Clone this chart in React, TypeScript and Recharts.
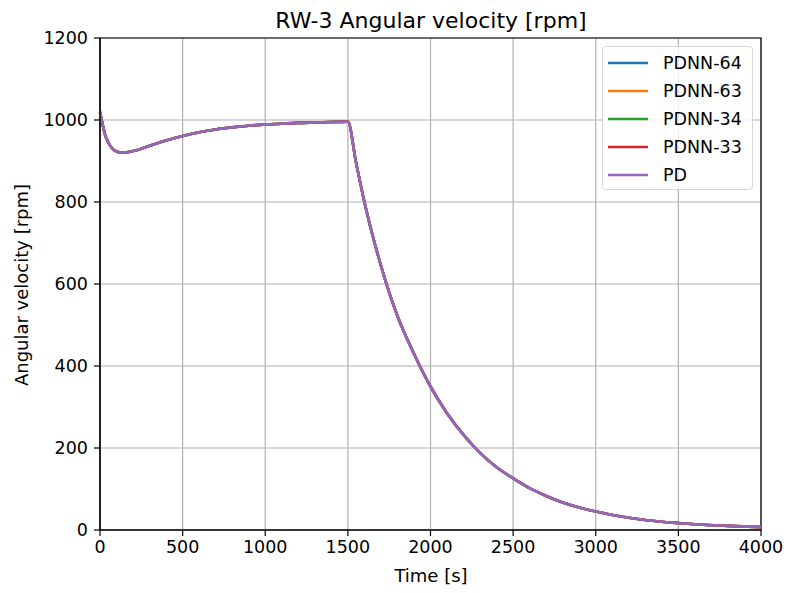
import { LineChart, Line, XAxis, YAxis, CartesianGrid, Legend, ReferenceArea } from "recharts";

// time stamps [s] and wheel speed [rpm]
const time = [
  0, 10, 20, 30, 50, 75, 100, 135, 175, 250, 300, 400, 500, 600, 700, 800, 900, 1000,
  1100, 1200, 1300, 1400, 1500, 1550, 1600, 1700, 1800, 1900, 2000, 2100, 2200, 2300,
  2400, 2500, 2600, 2700, 2800, 2900, 3000, 3200, 3400, 3500, 3600, 3800, 4000,
];
const pdnn64 = [
  1020, 1000, 982, 965, 945, 930, 923, 920, 922, 930, 937, 950, 961, 970, 977, 982, 986, 989,
  991, 993, 994, 995, 996, 895, 800, 645, 522, 430, 350, 285, 232, 188,
  153, 126, 102, 83, 67, 55, 45, 30, 20, 17, 14, 10, 7,
];
// the other controllers lie on top of PDNN-64 at this scale
const pdnn63 = pdnn64;
const pdnn34 = pdnn64;
const pdnn33 = pdnn64;
const pd = pdnn64;

const xTicks = [0, 500, 1000, 1500, 2000, 2500, 3000, 3500, 4000];
const yTicks = [0, 200, 400, 600, 800, 1000, 1200];

const series = [
  { key: "PDNN-64", values: pdnn64, color: "#1f77b4" },
  { key: "PDNN-63", values: pdnn63, color: "#ff7f0e" },
  { key: "PDNN-34", values: pdnn34, color: "#2ca02c" },
  { key: "PDNN-33", values: pdnn33, color: "#d62728" },
  { key: "PD", values: pd, color: "#9467bd" },
];

const data = time.map((t, i) => {
  const row: Record<string, number> = { t };
  series.forEach((s) => (row[s.key] = s.values[i]));
  return row;
});

const FONT = "'DejaVu Sans', sans-serif";

const renderLegend = () => (
  <div
    style={{
      position: "relative",
      width: 151,
      height: 144,
      boxSizing: "border-box",
      border: "1px solid #d6d6d6",
      borderRadius: 4,
      background: "rgba(255,255,255,0.8)",
      fontFamily: FONT,
      fontSize: 17.5,
      color: "#000",
    }}
  >
    {series.map((s, i) => (
      <div
        key={s.key}
        style={{ position: "absolute", left: 0, top: 16 + i * 28 - 12, height: 24, display: "flex", alignItems: "center" }}
      >
        <svg width={50} height={24} style={{ display: "block" }}>
          <line x1={5} x2={45} y1={12} y2={12} stroke={s.color} strokeWidth={2.6} />
        </svg>
        <span style={{ marginLeft: 10, lineHeight: "24px", whiteSpace: "nowrap" }}>{s.key}</span>
      </div>
    ))}
  </div>
);

export default function App() {
  return (
    <div style={{ position: "absolute", left: 0, top: 0, width: 786, height: 593, background: "#fff" }}>
      <LineChart
        width={786}
        height={593}
        data={data}
        margin={{ top: 38, right: 25, bottom: 33, left: 10 }}
      >
        <CartesianGrid stroke="#b0b0b0" strokeWidth={1.2} />
        <XAxis
          dataKey="t"
          type="number"
          domain={[0, 4000]}
          ticks={xTicks}
          height={30}
          tickSize={6}
          tickMargin={5}
          axisLine={{ stroke: "#000", strokeWidth: 1.2 }}
          tickLine={{ stroke: "#000", strokeWidth: 1.2 }}
          tick={{ fill: "#000", fontSize: 17.5, fontFamily: FONT }}
          interval={0}
        />
        <YAxis
          type="number"
          domain={[0, 1200]}
          ticks={yTicks}
          width={90}
          tickSize={6}
          tickMargin={6}
          axisLine={{ stroke: "#000", strokeWidth: 1.2 }}
          tickLine={{ stroke: "#000", strokeWidth: 1.2 }}
          tick={{ fill: "#000", fontSize: 17.5, fontFamily: FONT }}
          interval={0}
        />
        {series.map((s) => (
          <Line
            key={s.key}
            dataKey={s.key}
            type="monotone"
            stroke={s.color}
            strokeWidth={2.6}
            dot={false}
            isAnimationActive={false}
          />
        ))}
        <ReferenceArea x1={0} x2={4000} y1={0} y2={1200} fill="none" stroke="#000" strokeWidth={1.2} />
        <Legend
          layout="vertical"
          align="center"
          verticalAlign="middle"
          content={renderLegend}
          wrapperStyle={{ left: 602, top: 46, width: 151, height: 144 }}
        />
      </LineChart>
      <svg
        width={786}
        height={593}
        style={{ position: "absolute", left: 0, top: 0, pointerEvents: "none" }}
        fontFamily={FONT}
      >
        <text x={431} y={28} textAnchor="middle" fontSize={22} fill="#000">
          RW-3 Angular velocity [rpm]
        </text>
        <text x={431} y={582} textAnchor="middle" fontSize={18} fill="#000">
          Time [s]
        </text>
        <text
          x={0}
          y={0}
          transform="translate(28,285) rotate(-90)"
          textAnchor="middle"
          fontSize={18}
          fill="#000"
        >
          Angular velocity [rpm]
        </text>
      </svg>
    </div>
  );
}
